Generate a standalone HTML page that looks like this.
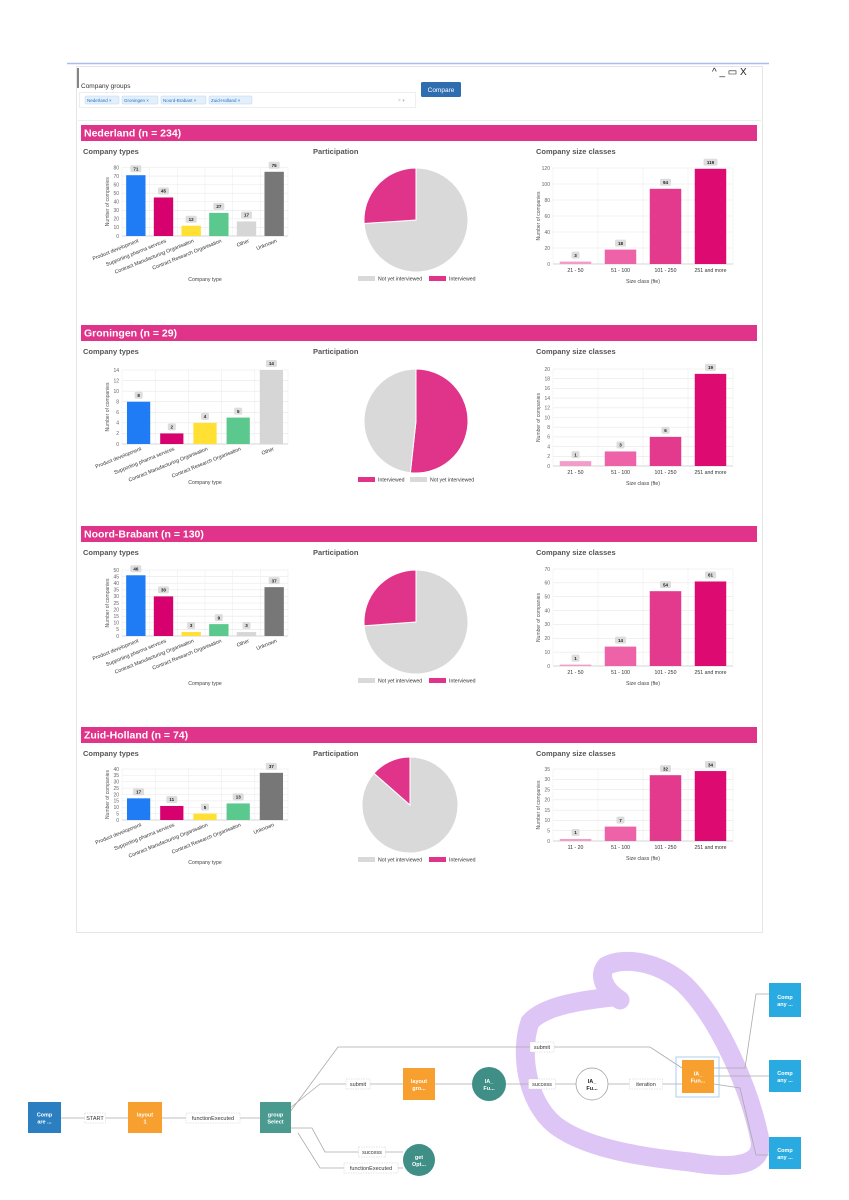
<!DOCTYPE html>
<html><head><meta charset="utf-8"><style>
html,body{margin:0;padding:0;background:#fff;}
svg{display:block;font-family:"Liberation Sans",sans-serif;}
</style></head><body>
<svg id="s" width="849" height="1200" viewBox="0 0 849 1200" xmlns="http://www.w3.org/2000/svg">
<rect width="849" height="1200" fill="#fff"/>
<line x1="67" y1="63.5" x2="769" y2="63.5" stroke="#a9bdf0" stroke-width="1.5"/>
<rect x="76.5" y="66.5" width="686" height="866" fill="#fff" stroke="#e6e6e6"/>
<line x1="78" y1="68" x2="78" y2="88" stroke="#333" stroke-width="1.2"/>
<text x="712" y="75" font-size="10" fill="#222">^ _ ▭ X</text>
<text x="81" y="88" font-size="6.5" fill="#333">Company groups</text>
<rect x="79.5" y="92.5" width="336" height="15" fill="#fff" stroke="#eee"/>
<g font-size="4.5" fill="#2a6fc0">
<rect x="85" y="96" width="34" height="8" rx="1" fill="#e3f0fc" stroke="#b9d6f5" stroke-width=".5"/><text x="87" y="101.8" fill="#2a6fc0">Nederland  ×</text>
<rect x="122" y="96" width="36" height="8" rx="1" fill="#e3f0fc" stroke="#b9d6f5" stroke-width=".5"/><text x="124" y="101.8" fill="#2a6fc0">Groningen  ×</text>
<rect x="161" y="96" width="45" height="8" rx="1" fill="#e3f0fc" stroke="#b9d6f5" stroke-width=".5"/><text x="163" y="101.8" fill="#2a6fc0">Noord-Brabant  ×</text>
<rect x="209" y="96" width="43" height="8" rx="1" fill="#e3f0fc" stroke="#b9d6f5" stroke-width=".5"/><text x="211" y="101.8" fill="#2a6fc0">Zuid-Holland  ×</text>
</g>
<text x="398" y="102" font-size="5" fill="#bbb">× ▾</text>
<rect x="421" y="82" width="40" height="15" rx="1.5" fill="#2e6db0"/>
<text x="441" y="92" font-size="6.5" fill="#fff" text-anchor="middle">Compare</text>
<line x1="78" y1="120.5" x2="761" y2="120.5" stroke="#eee"/>
<g id="charts"></g>
<g id="flow"></g>
</svg>
<script>
const regionTitles=['Nederland (n = 234)','Groningen (n = 29)','Noord-Brabant (n = 130)','Zuid-Holland (n = 74)'];
const nlTypeCats=['Product development','Supporting pharma services','Contract Manufacturing Organisation','Contract Research Organisation','Other','Unknown'];
const nlTypeVals=[71,45,12,27,17,75];
const grTypeCats=['Product development','Supporting pharma services','Contract Manufacturing Organisation','Contract Research Organisation','Other'];
const grTypeVals=[8,2,4,5,14];
const nbTypeCats=['Product development','Supporting pharma services','Contract Manufacturing Organisation','Contract Research Organisation','Other','Unknown'];
const nbTypeVals=[46,30,3,9,3,37];
const zhTypeCats=['Product development','Supporting pharma services','Contract Manufacturing Organisation','Contract Research Organisation','Unknown'];
const zhTypeVals=[17,11,5,13,37];
const nlSizeCats=['21 - 50','51 - 100','101 - 250','251 and more'];
const nlSizeVals=[3,18,94,119];
const grSizeCats=['21 - 50','51 - 100','101 - 250','251 and more'];
const grSizeVals=[1,3,6,19];
const nbSizeCats=['21 - 50','51 - 100','101 - 250','251 and more'];
const nbSizeVals=[1,14,54,61];
const zhSizeCats=['11 - 20','51 - 100','101 - 250','251 and more'];
const zhSizeVals=[1,7,32,34];
const nlPieLabels=['Not yet interviewed','Interviewed'];
const nlPieVals=[173,61];
const grPieLabels=['Interviewed','Not yet interviewed'];
const grPieVals=[15,14];
const nbPieLabels=['Not yet interviewed','Interviewed'];
const nbPieVals=[96,34];
const zhPieLabels=['Not yet interviewed','Interviewed'];
const zhPieVals=[64,10];
const typeYMax=[80,14,50,40];
const typeYStep=[10,2,5,5];
const sizeYMax=[120,20,70,35];
const sizeYStep=[20,2,10,5];

const NS='http://www.w3.org/2000/svg';
function mk(p,tag,a,txt){const e=document.createElementNS(NS,tag);for(const k in a)e.setAttribute(k,a[k]);if(txt!=null)e.textContent=txt;p.appendChild(e);return e;}
const typeColor={'Product development':'#1f7cf4','Supporting pharma services':'#d6006e','Contract Manufacturing Organisation':'#ffe033','Contract Research Organisation':'#5bc98d','Other':'#d6d6d6','Unknown':'#777777'};
const sizeColor=['#f39cc8','#ee62a8','#e33a8d','#dd0a72'];
const pieColor={'Not yet interviewed':'#d9d9d9','Interviewed':'#e0338a'};
const G=document.getElementById('charts');
const tops=[125,325,526,727];
const geo=[
 {tT:167.5,tB:236,tLab:281,sT:168,sB:264,pc:[416,220,52]},
 {tT:370,tB:444,tLab:484,sT:369,sB:466,pc:[416,421,52]},
 {tT:570,tB:636,tLab:685,sT:569,sB:666,pc:[416,622,52]},
 {tT:769,tB:820,tLab:864,sT:769,sB:841,pc:[410,805,48]}];
const allTypes=[[nlTypeCats,nlTypeVals],[grTypeCats,grTypeVals],[nbTypeCats,nbTypeVals],[zhTypeCats,zhTypeVals]];
const allSizes=[[nlSizeCats,nlSizeVals],[grSizeCats,grSizeVals],[nbSizeCats,nbSizeVals],[zhSizeCats,zhSizeVals]];
const allPies=[[nlPieLabels,nlPieVals],[grPieLabels,grPieVals],[nbPieLabels,nbPieVals],[zhPieLabels,zhPieVals]];

function barChart(g,cats,vals,x0,x1,yT,yB,max,step,colorFn,xTitle,xTitleY,rot,namePre){
  const y=v=>yB-(v/max)*(yB-yT);
  const band=(x1-x0)/cats.length;
  for(let v=0;v<=max+1e-9;v+=step){
    mk(g,'line',{x1:x0,x2:x1,y1:y(v),y2:y(v),stroke:'#e8e8e8','stroke-width':.6});
    mk(g,'text',{x:x0-3,y:y(v)+1.8,'font-size':5,fill:'#666','text-anchor':'end'},String(v));
  }
  for(let i=0;i<=cats.length;i++) mk(g,'line',{x1:x0+i*band,x2:x0+i*band,y1:yT,y2:yB,stroke:'#eee','stroke-width':.6});
  mk(g,'line',{x1:x0,x2:x1,y1:yB,y2:yB,stroke:'#ccc','stroke-width':.7});
  const yt=mk(g,'text',{x:0,y:0,'font-size':5,fill:'#555','text-anchor':'middle',transform:`translate(${x0-13},${(yT+yB)/2}) rotate(-90)`},'Number of companies');
  
  
  cats.forEach((c,i)=>{
    const bw=band*0.7,cx=x0+band*(i+.5);
    const r=mk(g,'rect',{x:cx-bw/2,y:y(vals[i]),width:bw,height:yB-y(vals[i]),fill:colorFn(c,i)});
    
    
    const lw=String(vals[i]).length*3+5;
    mk(g,'rect',{x:cx-lw/2,y:y(vals[i])-10,width:lw,height:7,rx:1.5,fill:'#ddd'});
    mk(g,'text',{x:cx,y:y(vals[i])-4.8,'font-size':4.5,'font-weight':'bold',fill:'#222','text-anchor':'middle'},String(vals[i]));
    if(rot) mk(g,'text',{x:0,y:0,'font-size':5.2,fill:'#333','text-anchor':'end',transform:`translate(${cx+3},${yB+6}) rotate(-22)`},c);
    else mk(g,'text',{x:cx,y:yB+8,'font-size':5.2,fill:'#333','text-anchor':'middle'},c);
  });
  const xt=mk(g,'text',{x:(x0+x1)/2,y:xTitleY,'font-size':5.2,fill:'#444','text-anchor':'middle'},xTitle);
  
  
}
function pie(g,labels,vals,cx,cy,r,legY,namePre){
  const tot=vals.reduce((a,b)=>a+b,0);let a=-Math.PI/2;
  labels.forEach((l,i)=>{
    const a2=a+vals[i]/tot*2*Math.PI;
    const large=(a2-a)>Math.PI?1:0;
    const p=mk(g,'path',{d:`M${cx},${cy}L${cx+r*Math.cos(a)},${cy+r*Math.sin(a)}A${r},${r} 0 ${large} 1 ${cx+r*Math.cos(a2)},${cy+r*Math.sin(a2)}Z`,fill:pieColor[l],stroke:'#fff','stroke-width':1});
    
    
    a=a2;
  });
  let lx=358;
  labels.forEach((l,i)=>{
    const e=mk(g,'rect',{x:lx,y:legY-4,width:17,height:5,fill:pieColor[l]});
    
    
    mk(g,'text',{x:lx+20,y:legY+0.5,'font-size':5.2,fill:'#333'},l);
    lx=l.length>12?429:410;
  });
}
regionTitles.forEach((t,k)=>{
  const top=tops[k],g=mk(G,'g',{}),gm=geo[k];
  
  
  const h=mk(g,'rect',{x:81,y:top,width:676,height:16,fill:'#e0338a'});
  
  
  mk(g,'text',{x:84,y:top+11.5,'font-size':10.5,'font-weight':'bold',fill:'#fff'},t);
  [['Company types',83],['Participation',313],['Company size classes',536]].forEach(([s,x])=>mk(g,'text',{x:x,y:top+29,'font-size':7.5,'font-weight':'bold',fill:'#555'},s));
  barChart(g,allTypes[k][0],allTypes[k][1],122,288,gm.tT,gm.tB,typeYMax[k],typeYStep[k],c=>typeColor[c],'Company type',gm.tLab,true,'types-'+k);
  barChart(g,allSizes[k][0],allSizes[k][1],553,733,gm.sT,gm.sB,sizeYMax[k],sizeYStep[k],(c,i)=>sizeColor[i],'Size class (fte)',gm.sB+19,false,'size-'+k);
  const pc=gm.pc;
  pie(g,allPies[k][0],allPies[k][1],pc[0],pc[1],pc[2],pc[1]+pc[2]+8,'participation-'+k);
});

// flow diagram
const F=document.getElementById('flow');
const loop=mk(F,'path',{d:'M620,1000 C604,990 598,975 606,966 C625,956 660,962 685,985 C720,1020 750,1090 760,1140 C764,1165 735,1170 690,1162 C640,1157 585,1148 555,1125 C525,1100 520,1050 530,1022 C545,1005 585,1000 612,997',fill:'none',stroke:'#d2b3f2','stroke-width':19,'stroke-opacity':.75,'stroke-linecap':'round'});


const edges=[[61,1118,128,1118],[162,1118,260,1118],[290,1108,320,1084,403,1084],[290,1112,338,1047,650,1047,682,1068],[435,1084,472,1084],[506,1084,576,1084],[608,1084,682,1084],[714,1068,745,1068,756,994,769,994],[714,1076,769,1076],[714,1084,740,1088,756,1155,769,1155],[403,1152,325,1152,312,1128,291,1128],[403,1168,320,1168,298,1133]];
edges.forEach(e=>{let d='M'+e[0]+','+e[1];for(let i=2;i<e.length;i+=2)d+='L'+e[i]+','+e[i+1];mk(F,'path',{d:d,fill:'none',stroke:'#aaa','stroke-width':.8});});
function node(x,y,w,h,fill,txt,name,circle){
  let e;
  if(circle) e=mk(F,'circle',{cx:x+w/2,cy:y+h/2,r:w/2,fill:fill,stroke:fill=='#fff'?'#999':'none','stroke-width':.7});
  else e=mk(F,'rect',{x:x,y:y,width:w,height:h,fill:fill});
  
  
  const c=fill=='#fff'?'#222':'#fff';
  mk(F,'text',{x:x+w/2,y:y+h/2-1,'font-size':5.5,'font-weight':'bold',fill:c,'text-anchor':'middle'},txt[0]);
  mk(F,'text',{x:x+w/2,y:y+h/2+6,'font-size':5.5,'font-weight':'bold',fill:c,'text-anchor':'middle'},txt[1]);
}
mk(F,'rect',{x:676,y:1057,width:43,height:40,fill:'none',stroke:'#9cc3e8','stroke-width':.8});
node(28,1102,33,31,'#2b7fc0',['Comp','are ...'],'flow-node-compare');
node(128,1102,34,31,'#f7a030',['layout','1'],'flow-node-layout-1');
node(260,1102,31,31,'#4a9a90',['group','Select'],'flow-node-group-select');
node(403,1068,32,32,'#f7a030',['layout','gro...'],'flow-node-layout-groups');
node(472,1067,34,34,'#3f8f86',['IA_','Fu...'],'flow-node-ia-function-1',true);
node(576,1068,32,32,'#fff',['IA_','Fu...'],'flow-node-ia-function-2',true);
node(682,1060,32,33,'#f7a030',['IA_','Fun...'],'flow-node-ia-function-3');
node(769,983,32,34,'#29aae1',['Comp','any ...'],'flow-node-company-1');
node(769,1060,32,32,'#29aae1',['Comp','any ...'],'flow-node-company-2');
node(769,1137,32,32,'#29aae1',['Comp','any ...'],'flow-node-company-3');
node(403,1144,32,32,'#3f8f86',['get','Opt...'],'flow-node-get-options',true);
const labs=[['START',95,1118],['functionExecuted',213,1118],['submit',358,1084],['submit',542,1047],['success',542,1084],['iteration',646,1084],['success',372,1152],['functionExecuted',371,1168]];
labs.forEach(([t,x,y])=>{const w=t.length*3+6;const r=mk(F,'rect',{x:x-w/2,y:y-5,width:w,height:10,fill:'#fff',stroke:'#ccc','stroke-width':.5,'stroke-dasharray':'1.5,1'});


mk(F,'text',{x:x,y:y+2,'font-size':5.5,fill:'#333','text-anchor':'middle'},t);});
</script>
</body></html>
